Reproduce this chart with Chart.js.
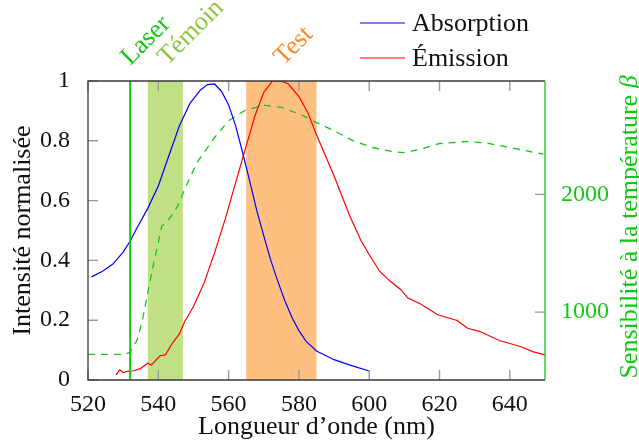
<!DOCTYPE html>
<html>
<head>
<meta charset="UTF-8">
<script src="https://cdn.jsdelivr.net/npm/chart.js"></script>
<style>
  body { margin: 0; padding: 0; background: #fff; font-family: "Liberation Serif"; font-size: 24px; }
  .warm { position: absolute; left: 0; top: 0; color: #fff; white-space: nowrap; }
  #spectre { position: relative; display: block; }
</style>
</head>
<body>
<div class="warm">Intensité normalisée 0.8 <i>β</i></div>
<canvas id="spectre" width="639" height="447"></canvas>
<script>
// Absorption (normalisée)
const absWl  = [521, 524, 527, 530, 532, 534, 537, 540, 543, 546, 549, 552, 554, 556, 558, 560, 562, 564, 566, 568, 570, 572, 574, 576, 578, 580, 582, 585, 590, 595, 600];
const absVal = [0.345, 0.363, 0.387, 0.428, 0.465, 0.51, 0.574, 0.649, 0.75, 0.85, 0.925, 0.97, 0.988, 0.99, 0.965, 0.92, 0.85, 0.76, 0.665, 0.567, 0.482, 0.40, 0.33, 0.265, 0.21, 0.165, 0.13, 0.097, 0.068, 0.048, 0.03];

// Émission (normalisée)
const emWl  = [528, 529, 530, 531.5, 533, 535, 537, 538, 540.5, 542, 544, 546, 547.5, 550, 553, 556, 559, 562, 565, 567.5, 570, 572.5, 575, 577, 580, 582.5, 585, 590, 594.5, 597.5, 600, 603, 606, 609, 611, 614.5, 619.5, 625, 628, 631.5, 637, 643, 646.5, 650];
const emVal = [0.017, 0.034, 0.025, 0.030, 0.031, 0.039, 0.056, 0.050, 0.081, 0.084, 0.123, 0.154, 0.196, 0.246, 0.324, 0.425, 0.537, 0.66, 0.783, 0.884, 0.962, 1.0, 1.0, 0.99, 0.948, 0.895, 0.82, 0.682, 0.548, 0.47, 0.419, 0.363, 0.33, 0.302, 0.274, 0.255, 0.218, 0.199, 0.173, 0.162, 0.132, 0.112, 0.095, 0.084];

// Sensibilité à la température (axe de droite)
const sensWl  = [520, 530.5, 532, 534, 535.5, 537, 538.5, 540, 541, 543, 545.5, 547.5, 551, 556, 560, 564.5, 570, 575, 580.5, 584, 590, 595.5, 601, 607, 610, 614.5, 620, 627.5, 633.5, 640, 649.5];
const sensVal = [640, 640, 660, 764, 934, 1165, 1389, 1590, 1730, 1787, 1900, 2043, 2270, 2483, 2625, 2710, 2758, 2739, 2678, 2625, 2540, 2454, 2398, 2361, 2355, 2384, 2432, 2449, 2435, 2398, 2341];

// Laser et bandes de filtres
const laserWl   = 532;
const bandNames = ['Témoin', 'Test'];
const bandFrom  = [537, 565];
const bandTo    = [547, 585];

// Graduations
const xTicks  = [520, 540, 560, 580, 600, 620, 640];
const yTicks  = [0, 0.2, 0.4, 0.6, 0.8, 1];
const yLabels = ['0', '0.2', '0.4', '0.6', '0.8', '1'];
const y2Ticks = [1000, 2000];

const fam = '"Liberation Serif"';
const green = '#12c812';
const bandColors = ['#c1df85', '#ffbf80'];
const bandTextColors = ['#8cc63a', '#ff8a2a'];
const frameColor = '#3a3a3a';
const tickColor = '#9a9a9a';

const pts = (xs, ys) => xs.map((x, i) => ({x: x, y: ys[i]}));

const decor = {
    id: 'decor',
    beforeDatasetsDraw(chart) {
        const {ctx, chartArea: a, scales: {x}} = chart;
        ctx.save();
        bandNames.forEach((n, i) => {
            const x0 = x.getPixelForValue(bandFrom[i]);
            const x1 = x.getPixelForValue(bandTo[i]);
            ctx.fillStyle = bandColors[i];
            ctx.fillRect(x0, a.top, x1 - x0, a.bottom - a.top);
        });
        ctx.restore();
    },
    afterDatasetsDraw(chart) {
        const {ctx, chartArea: a, scales: {x, y, y2}} = chart;
        ctx.save();

        // raie laser
        const xl = x.getPixelForValue(laserWl);
        ctx.strokeStyle = green;
        ctx.lineWidth = 2;
        ctx.beginPath();
        ctx.moveTo(xl, a.top);
        ctx.lineTo(xl, a.bottom);
        ctx.stroke();

        // graduations intérieures
        const tl = 10;
        ctx.strokeStyle = tickColor;
        ctx.lineWidth = 1.4;
        ctx.beginPath();
        x.ticks.forEach(t => {
            const px = x.getPixelForValue(t.value);
            ctx.moveTo(px, a.bottom); ctx.lineTo(px, a.bottom - tl);
            ctx.moveTo(px, a.top); ctx.lineTo(px, a.top + tl);
        });
        y.ticks.forEach(t => {
            const py = y.getPixelForValue(t.value);
            ctx.moveTo(a.left, py); ctx.lineTo(a.left + tl, py);
        });
        y2.ticks.forEach(t => {
            const py = y2.getPixelForValue(t.value);
            ctx.moveTo(a.right, py); ctx.lineTo(a.right - tl, py);
        });
        ctx.stroke();

        // cadre
        ctx.lineWidth = 1.3;
        ctx.strokeStyle = frameColor;
        ctx.beginPath();
        ctx.moveTo(a.right, a.top); ctx.lineTo(a.left, a.top);
        ctx.lineTo(a.left, a.bottom); ctx.lineTo(a.right, a.bottom);
        ctx.stroke();
        ctx.strokeStyle = green;
        ctx.beginPath();
        ctx.moveTo(a.right, a.top); ctx.lineTo(a.right, a.bottom);
        ctx.stroke();

        ctx.restore();
    },
    afterDraw(chart) {
        const {ctx, chartArea: a, scales: {x}} = chart;
        ctx.save();
        ctx.font = '26px ' + fam;
        ctx.textBaseline = 'alphabetic';
        ctx.textAlign = 'left';

        // étiquettes inclinées
        const rotLabel = (txt, px, col) => {
            ctx.save();
            ctx.translate(px, a.top - 15);
            ctx.rotate(-Math.PI / 4);
            ctx.fillStyle = col;
            ctx.fillText(txt, 0, 0);
            ctx.restore();
        };
        rotLabel('Laser', x.getPixelForValue(laserWl), green);
        bandNames.forEach((n, i) => {
            const c = x.getPixelForValue((bandFrom[i] + bandTo[i]) / 2);
            rotLabel(n, c + 2, bandTextColors[i]);
        });

        // légende
        const leg = [['Absorption', '#0000ff', 23], ['Émission', '#ff0000', 58]];
        leg.forEach(([txt, col, ly]) => {
            ctx.strokeStyle = col;
            ctx.lineWidth = 1.2;
            ctx.beginPath();
            ctx.moveTo(360, ly); ctx.lineTo(405, ly);
            ctx.stroke();
            ctx.fillStyle = '#111';
            ctx.fillText(txt, 412, ly + 8);
        });

        // titres des axes
        ctx.fillStyle = '#111';
        ctx.textAlign = 'center';
        ctx.textBaseline = 'middle';
        ctx.fillText('Longueur d\u2019onde (nm)', (a.left + a.right) / 2, 427);

        ctx.save();
        ctx.translate(23, (a.top + a.bottom) / 2);
        ctx.rotate(-Math.PI / 2);
        ctx.fillText('Intensité normalisée', 0, 0);
        ctx.restore();

        ctx.save();
        ctx.translate(630, 227);
        ctx.rotate(-Math.PI / 2);
        ctx.fillStyle = green;
        const t1 = 'Sensibilité à la température ';
        const w1 = ctx.measureText(t1).width;
        ctx.font = 'italic 26px ' + fam;
        const w2 = ctx.measureText('β').width;
        ctx.textAlign = 'left';
        ctx.font = '26px ' + fam;
        ctx.fillText(t1, -(w1 + w2) / 2, 0);
        ctx.font = 'italic 26px ' + fam;
        ctx.fillText('β', -(w1 + w2) / 2 + w1, 0);
        ctx.restore();

        ctx.restore();
    }
};

Chart.defaults.font.family = fam;

function draw() {
    new Chart(document.getElementById('spectre'), {
        type: 'line',
        data: {
            datasets: [
                {
                    label: 'Absorption',
                    data: pts(absWl, absVal),
                    borderColor: '#0000ff',
                    borderWidth: 1.2,
                    yAxisID: 'y'
                },
                {
                    label: 'Émission',
                    data: pts(emWl, emVal),
                    borderColor: '#ff0000',
                    borderWidth: 1.2,
                    yAxisID: 'y'
                },
                {
                    label: 'Sensibilité',
                    data: pts(sensWl, sensVal),
                    borderColor: green,
                    borderWidth: 1.3,
                    borderDash: [7, 6],
                    yAxisID: 'y2'
                }
            ]
        },
        options: {
            responsive: false,
            animation: false,
            layout: { padding: { top: 81, left: 0, right: 0, bottom: 0 } },
            elements: { point: { radius: 0 }, line: { tension: 0 } },
            plugins: { legend: { display: false }, tooltip: { enabled: false } },
            scales: {
                x: {
                    type: 'linear',
                    min: 520,
                    max: 650,
                    afterBuildTicks: s => { s.ticks = xTicks.map(v => ({value: v})); },
                    afterFit: s => { s.height = 67; },
                    grid: { display: false },
                    border: { display: false },
                    ticks: {
                        color: '#111',
                        font: { family: fam, size: 24 },
                        padding: 2,
                        maxRotation: 0,
                        callback: v => String(v)
                    }
                },
                y: {
                    position: 'left',
                    min: 0,
                    max: 1,
                    afterBuildTicks: s => { s.ticks = yTicks.map(v => ({value: v})); },
                    afterFit: s => { s.width = 88; },
                    grid: { display: false },
                    border: { display: false },
                    ticks: {
                        color: '#111',
                        font: { family: fam, size: 24 },
                        padding: 10,
                        callback: (v, i) => yLabels[i]
                    }
                },
                y2: {
                    position: 'right',
                    min: 423,
                    max: 2963,
                    afterBuildTicks: s => { s.ticks = y2Ticks.map(v => ({value: v})); },
                    afterFit: s => { s.width = 94; },
                    grid: { display: false },
                    border: { display: false },
                    ticks: {
                        color: green,
                        font: { family: fam, size: 24 },
                        padding: 8,
                        callback: v => String(v)
                    }
                }
            }
        },
        plugins: [decor]
    });
}

// dessiner une fois la page chargée et la police prête
window.addEventListener('load', () => {
    document.fonts.load('26px "Liberation Serif"')
        .then(() => document.fonts.ready)
        .then(() => requestAnimationFrame(draw), () => requestAnimationFrame(draw));
});
</script>
</body>
</html>
